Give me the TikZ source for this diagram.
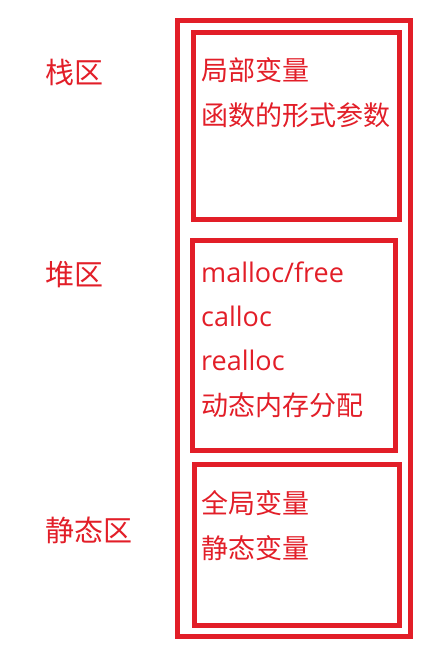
\documentclass[tikz,border=0pt]{standalone}
\usepackage{fontspec}
\setmainfont{Open Sans}
\newfontfamily\cjk{Noto Sans CJK SC}
\usepackage{tikz}
\usetikzlibrary{calc}

\definecolor{memred}{RGB}{226,30,40}

\tikzset{
  area/.style={anchor=base west,inner sep=0pt,text=memred,font=\cjk\fontsize{29}{34}\selectfont},
  item/.style={anchor=base west,inner sep=0pt,text=memred,font=\fontsize{27}{32}\selectfont},
  cjkitem/.style={item,font=\cjk\fontsize{27}{32}\selectfont}
}

\begin{document}
\begin{tikzpicture}[x=1pt,y=-1pt]
\useasboundingbox (0,0) rectangle (436,645);

\def\lwblk{5pt}
\def\xl{45}
\def\xi{201}

% outer frame and the three regions
\draw[color=memred,line width=\lwblk] (177,20.5) rectangle (410,636);
\draw[color=memred,line width=\lwblk] (193.5,32.5) rectangle (399.5,219);
\draw[color=memred,line width=\lwblk] (192,240.5) rectangle (395,450);
\draw[color=memred,line width=\lwblk] (194.5,464.5) rectangle (399.5,625.5);

% left labels
\node[area] (stack)  at (\xl,83)  {栈区};
\node[area] (heap)   at (\xl,285) {堆区};
\node[area] (static) at (\xl,541) {静态区};

% stack
\node[cjkitem] (s1) at (\xi,80)  {局部变量};
\node[cjkitem] (s2) at (\xi,125) {函数的形式参数};

% heap
\node[item]    (h1) at (\xi,282) {malloc/free};
\node[item]    (h2) at (\xi,326) {calloc};
\node[item]    (h3) at (\xi,370) {realloc};
\node[cjkitem] (h4) at (\xi,415) {动态内存分配};

% static
\node[cjkitem] (g1) at (\xi,513) {全局变量};
\node[cjkitem] (g2) at (\xi,558) {静态变量};

\end{tikzpicture}
\end{document}
